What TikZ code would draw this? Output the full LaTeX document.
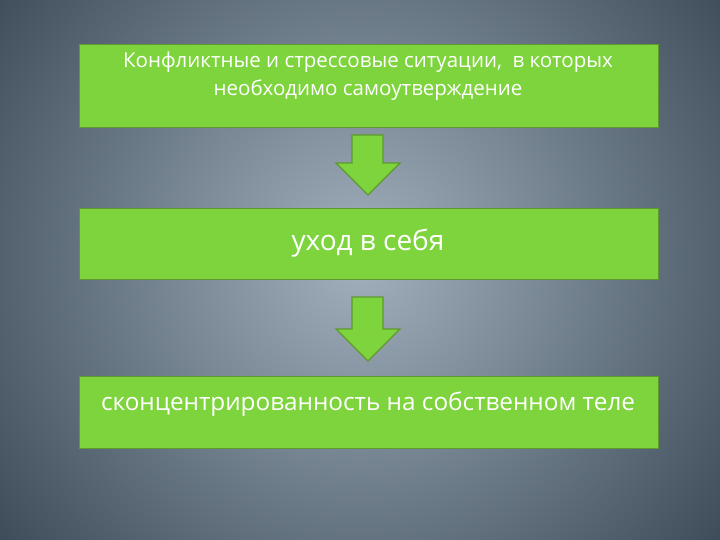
\documentclass[tikz,border=0pt]{standalone}
\usepackage{fontspec}
\setmainfont{Open Sans}
\definecolor{bgin}{HTML}{A2B0BE}
\definecolor{bgout}{HTML}{34434F}
\definecolor{boxg}{HTML}{7ED43C}
\definecolor{boxb}{HTML}{5E9A2E}
\tikzset{
  box/.style={draw=boxb,line width=1.2pt,fill=boxg,minimum width=579pt,anchor=north west,inner sep=0pt},
  txt/.style={text=white,align=center},
  arr/.style={draw=boxb,line width=1.4pt,fill=boxg,line join=miter}
}
\begin{document}
\begin{tikzpicture}[x=1pt,y=-1pt]
\useasboundingbox (0,0) rectangle (720,540);
\clip (0,0) rectangle (720,540);
\shade[inner color=bgin,outer color=bgout] (-140,-240) rectangle (860,760);
\node[box,minimum height=83pt] (b1) at (79,44) {};
\node[txt,font=\fontsize{20.5}{28}\selectfont] (t1) at (368,76) {Конфликтные и стрессовые ситуации,\ \ в которых\\необходимо самоутверждение};
\node[box,minimum height=71pt] (b2) at (79,208) {};
\node[txt,font=\fontsize{28}{32}\selectfont] (t2) at (368,243) {уход в себя};
\node[box,minimum height=72pt] (b3) at (79,376) {};
\node[txt,font=\fontsize{24.3}{28}\selectfont] (t3) at (368,404) {сконцентрированность на собственном теле};
\draw[arr] (352,135) -- (383,135) -- (383,163) -- (400,163) -- (368,195) -- (336,163) -- (352,163) -- cycle;
\draw[arr] (352,297) -- (383,297) -- (383,329) -- (400,329) -- (368,361) -- (336,329) -- (352,329) -- cycle;
\end{tikzpicture}
\end{document}
